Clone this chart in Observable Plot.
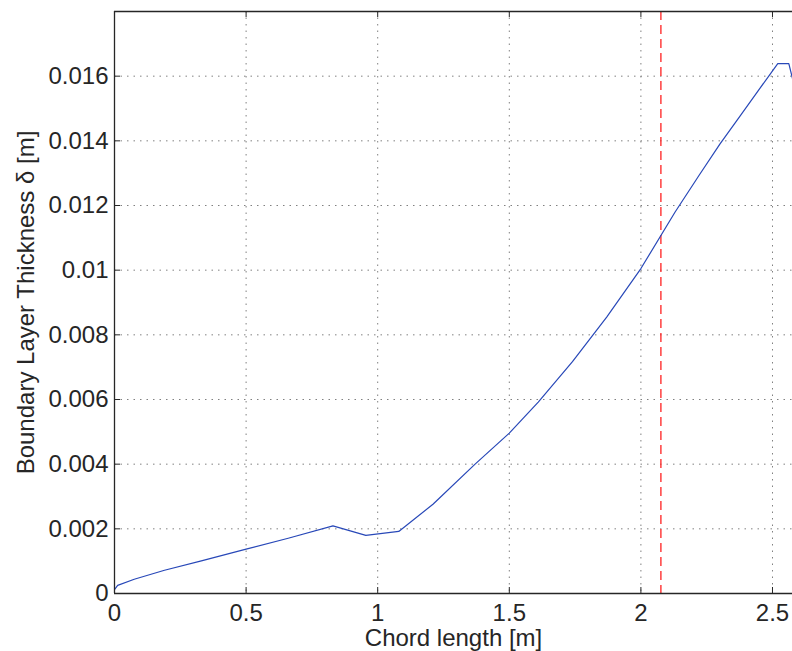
<!DOCTYPE html>
<html>
<head>
<meta charset="utf-8">
<script src="https://cdn.jsdelivr.net/npm/d3@7"></script>
<script src="https://cdn.jsdelivr.net/npm/@observablehq/plot@0.6"></script>
<style>
  html, body { margin: 0; padding: 0; background: #ffffff; }
  #chart { width: 792px; height: 651px; }
</style>
</head>
<body>
<div id="chart"></div>
<script>
// ---- data ----
const chord = [0, 0.012, 0.075, 0.19, 0.33, 0.5, 0.66, 0.83, 0.955, 1.08, 1.21, 1.37, 1.5, 1.61, 1.74, 1.87, 2.0, 2.13, 2.22, 2.30, 2.38, 2.45, 2.52, 2.562, 2.59];
const delta = [0.00012, 0.00025, 0.00044, 0.00072, 0.00101, 0.00137, 0.00171, 0.00209, 0.00180, 0.00192, 0.00276, 0.00400, 0.00496, 0.00592, 0.00717, 0.00855, 0.01005, 0.01180, 0.01292, 0.01390, 0.01480, 0.01560, 0.01639, 0.01639, 0.01547];
const markerX = [2.076];
const xTicks = [0, 0.5, 1, 1.5, 2, 2.5];
const xTickLabels = ["0", "0.5", "1", "1.5", "2", "2.5"];
const yTicks = [0, 0.002, 0.004, 0.006, 0.008, 0.01, 0.012, 0.014, 0.016];
const yTickLabels = ["0", "0.002", "0.004", "0.006", "0.008", "0.01", "0.012", "0.014", "0.016"];
const xDomain = [0, 2.576];
const yDomain = [0, 0.018];
const xLabel = "Chord length [m]";
const yLabel = "Boundary Layer Thickness \u03b4 [m]";

const points = chord.map((c, i) => ({x: c, y: delta[i]}));

const W = 792, H = 651;
const mL = 114, mR = 0, mT = 11, mB = 58;
const innerW = W - mL - mR, innerH = H - mT - mB;
const tickLen = 6;
const ink = "#262626";
const font = "Liberation Sans, Arial, Helvetica, sans-serif";

const chart = Plot.plot({
  width: W,
  height: H,
  marginLeft: mL,
  marginRight: mR,
  marginTop: mT,
  marginBottom: mB,
  style: {fontFamily: font, fontSize: "24px", color: ink, background: "#ffffff", overflow: "visible"},
  x: {domain: xDomain},
  y: {domain: yDomain},
  marks: [
    Plot.gridX(xTicks.slice(1), {stroke: "#808080", strokeOpacity: 1, strokeWidth: 1, strokeDasharray: "1.5,5"}),
    Plot.gridY(yTicks.slice(1), {stroke: "#808080", strokeOpacity: 1, strokeWidth: 1, strokeDasharray: "1.5,5"}),
    Plot.ruleX(markerX, {stroke: "#ff2020", strokeWidth: 1.3, strokeDasharray: "9,5"}),
    Plot.line(points, {x: "x", y: "y", stroke: "#2848b8", strokeWidth: 1.2, clip: true}),
    Plot.ruleX([xDomain[0]], {stroke: ink, strokeWidth: 1.3}),
    Plot.ruleY([yDomain[0], yDomain[1]], {stroke: ink, strokeWidth: 1.3}),
    Plot.tickX(xTicks, {x: d => d, insetTop: innerH - tickLen, stroke: ink}),
    Plot.tickX(xTicks, {x: d => d, insetBottom: innerH - tickLen, stroke: ink}),
    Plot.tickY(yTicks, {y: d => d, insetRight: innerW - tickLen, stroke: ink}),
    Plot.axisX({ticks: xTicks, tickSize: 0, tickPadding: 10.5, tickFormat: d => xTickLabels[xTicks.indexOf(d)], label: null, fontSize: 24, fill: ink}),
    Plot.axisY({ticks: yTicks, tickSize: 0, tickPadding: 6, tickFormat: d => yTickLabels[yTicks.indexOf(d)], label: null, fontSize: 24, fill: ink}),
    Plot.text([xLabel], {text: d => d, frameAnchor: "bottom", dy: 44.5, textAnchor: "middle", lineAnchor: "middle", fontSize: 24, fill: ink}),
    Plot.text([yLabel], {text: d => d, frameAnchor: "left", dx: -88, rotate: -90, textAnchor: "middle", lineAnchor: "middle", fontSize: 24, fill: ink})
  ]
});
document.getElementById("chart").appendChild(chart);
</script>
</body>
</html>
